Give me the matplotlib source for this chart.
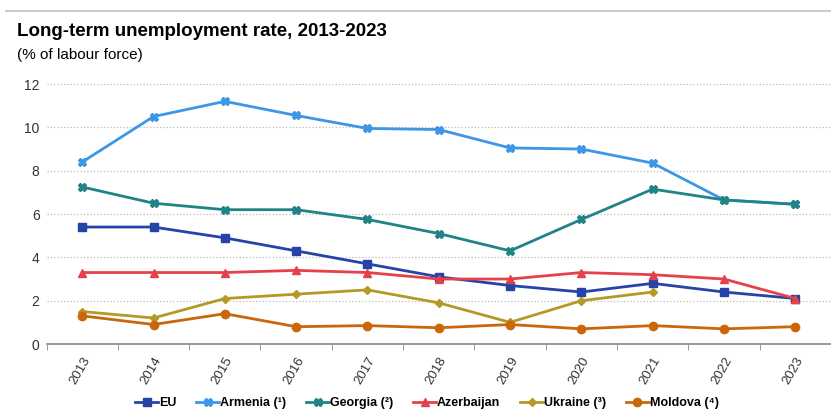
import matplotlib.pyplot as plt
import numpy as np

years = ['2013', '2014', '2015', '2016', '2017', '2018', '2019', '2020', '2021', '2022', '2023']
eu = [5.4, 5.4, 4.9, 4.3, 3.7, 3.1, 2.7, 2.4, 2.8, 2.4, 2.1]
armenia = [8.4, 10.5, 11.2, 10.55, 9.95, 9.9, 9.05, 9.0, 8.35, 6.65, 6.45]
georgia = [7.25, 6.5, 6.2, 6.2, 5.75, 5.1, 4.3, 5.75, 7.15, 6.65, 6.45]
azerbaijan = [3.3, 3.3, 3.3, 3.4, 3.3, 3.0, 3.0, 3.3, 3.2, 3.0, 2.1]
ukraine = [1.5, 1.2, 2.1, 2.3, 2.5, 1.9, 1.0, 2.0, 2.4, np.nan, np.nan]
moldova = [1.3, 0.9, 1.4, 0.8, 0.85, 0.75, 0.9, 0.7, 0.85, 0.7, 0.8]

plt.rcParams['font.family'] = ['Liberation Sans', 'DejaVu Sans']

fig = plt.figure(figsize = (8.31, 4.12), dpi = 100)
ax = fig.add_axes([0.056, 0.165, 0.944, 0.631])

x = np.arange(len(years))
series = [
    ('EU', eu, '#2644A7', 's', 6),
    ('Armenia (¹)', armenia, '#3E96E6', 'X', 6),
    ('Georgia (²)', georgia, '#208486', 'X', 6),
    ('Azerbaijan', azerbaijan, '#E5414A', '^', 6),
    ('Ukraine (³)', ukraine, '#B39A24', 'D', 4.5),
    ('Moldova (⁴)', moldova, '#C9670A', 'o', 6),
]
for name, vals, col, mk, ms in series:
    ax.plot(x, vals, color = col, marker = mk, markersize = ms, linewidth = 2, label = name)

ax.set_xlim(-0.5, len(years) - 0.5)
ax.set_ylim(0, 12)
ax.set_yticks(range(0, 13, 2))
ax.set_xticks(x)
ax.set_xticklabels(years, rotation = 60, ha = 'right', rotation_mode = 'anchor', fontsize = 9.5, color = '#333333')
ax.set_xticks(np.arange(-0.5, len(years), 1), minor = True)
ax.tick_params(axis = 'x', which = 'major', length = 0, pad = 8)
ax.tick_params(axis = 'x', which = 'minor', length = 4, color = '#888888')
ax.tick_params(axis = 'y', length = 0, labelsize = 10, labelcolor = '#333333', pad = 5)
ax.grid(axis = 'y', linestyle = ':', color = '#bbbbbb', linewidth = 0.9)
for s in ['left', 'right', 'top']:
    ax.spines[s].set_visible(False)
ax.spines['bottom'].set_color('#888888')
ax.spines['bottom'].set_linewidth(1.2)

# thin rule across the top
fig.add_artist(plt.Line2D([0.007, 1.0], [0.974, 0.974], color = '#cccccc', linewidth = 1.5))

fig.text(0.02, 0.912, 'Long-term unemployment rate, 2013-2023', fontsize = 13.5, fontweight = 'bold', va = 'baseline')
fig.text(0.02, 0.858, '(% of labour force)', fontsize = 11, va = 'baseline')

leg = fig.legend(loc = 'center', bbox_to_anchor = (0.514, 0.022), ncol = 6, frameon = False,
                 prop = {'weight': 'bold', 'size': 9}, handlelength = 1.8, columnspacing = 1.6, handletextpad = 0.1)

fig.savefig('out.png', dpi = 100)
